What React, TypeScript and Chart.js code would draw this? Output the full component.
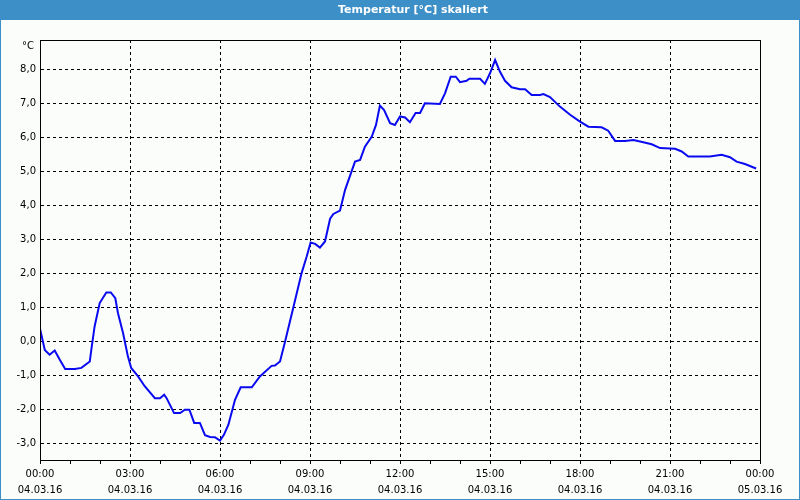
import React, { useEffect, useRef } from "react";
import { Chart, registerables } from "chart.js";

Chart.register(...registerables);

const chartTitle = "Temperatur [°C] skaliert";
const unitLabel = "°C";

const hours = [
  0.0, 0.16, 0.32, 0.49, 0.66, 0.84, 1.16, 1.38, 1.66, 1.71, 1.82, 1.99, 2.21, 2.36, 2.51, 2.6, 2.77, 2.93,
  3.04, 3.27, 3.49, 3.83, 4.0, 4.14, 4.22, 4.47, 4.67, 4.83, 4.98, 5.14, 5.33, 5.5, 5.67, 5.83, 6.0, 6.13,
  6.28, 6.5, 6.69, 7.06, 7.33, 7.72, 7.83, 8.0, 8.17, 8.44, 8.72, 8.89, 9.02, 9.17, 9.33, 9.5, 9.67, 9.78,
  10.0, 10.17, 10.5, 10.67, 10.83, 11.06, 11.2, 11.33, 11.47, 11.67, 11.83, 12.0, 12.17, 12.33, 12.52, 12.67,
  12.83, 13.33, 13.5, 13.69, 13.86, 14.0, 14.22, 14.31, 14.67, 14.83, 15.0, 15.17, 15.33, 15.5, 15.72, 16.0,
  16.17, 16.39, 16.67, 16.78, 17.0, 17.33, 17.67, 18.0, 18.28, 18.72, 18.94, 19.17, 19.5, 19.78, 20.11, 20.39,
  20.67, 21.17, 21.39, 21.61, 22.33, 22.72, 23.0, 23.22, 23.5, 23.87,
];

const temps = [
  0.38, -0.24, -0.38, -0.26, -0.53, -0.8, -0.8, -0.77, -0.58, -0.24, 0.45, 1.14, 1.45, 1.45, 1.28, 0.84, 0.25, -0.43,
  -0.77, -1.02, -1.31, -1.66, -1.66, -1.56, -1.66, -2.1, -2.1, -2.0, -2.0, -2.39, -2.39, -2.75, -2.8, -2.81, -2.91, -2.74,
  -2.44, -1.71, -1.34, -1.34, -1.02, -0.71, -0.7, -0.58, 0.01, 0.99, 2.02, 2.51, 2.92, 2.88, 2.77, 2.95, 3.62, 3.76,
  3.86, 4.47, 5.3, 5.35, 5.74, 6.04, 6.38, 6.95, 6.82, 6.43, 6.38, 6.63, 6.6, 6.46, 6.73, 6.73,
  7.02, 7.0, 7.31, 7.8, 7.8, 7.64, 7.68, 7.74, 7.74, 7.59, 7.9, 8.29, 7.95, 7.68, 7.49, 7.43,
  7.43, 7.26, 7.26, 7.29, 7.2, 6.92, 6.68, 6.48, 6.33, 6.31, 6.21, 5.91, 5.91, 5.94, 5.87, 5.81,
  5.7, 5.68, 5.6, 5.45, 5.45, 5.5, 5.43, 5.3, 5.23, 5.1,
];

const yTickValues = [-3, -2, -1, 0, 1, 2, 3, 4, 5, 6, 7, 8];
const xLabelHours = [0, 3, 6, 9, 12, 15, 18, 21, 24];
const xTimeLabels = ["00:00", "03:00", "06:00", "09:00", "12:00", "15:00", "18:00", "21:00", "00:00"];
const xDateLabels = ["04.03.16", "04.03.16", "04.03.16", "04.03.16", "04.03.16", "04.03.16", "04.03.16", "04.03.16", "05.03.16"];

const FONT = "'DejaVu Sans', Tahoma, sans-serif";
const FRAME_BLUE = "#3d8fc7";

const framePlugin = {
  id: "frame",
  beforeDraw(chart: any) {
    const { ctx, width, height } = chart;
    ctx.save();
    ctx.fillStyle = "#fbfdfb";
    ctx.fillRect(0, 0, width, height);
    ctx.fillStyle = FRAME_BLUE;
    ctx.fillRect(0, 0, width, 20);
    ctx.strokeStyle = FRAME_BLUE;
    ctx.lineWidth = 1;
    ctx.strokeRect(0.5, 0.5, width - 1, height - 1);
    ctx.fillStyle = "#ffffff";
    ctx.font = `bold 11px ${FONT}`;
    ctx.textAlign = "center";
    ctx.textBaseline = "middle";
    ctx.fillText(chartTitle, width / 2 + 13, 10.5);
    ctx.restore();
  },
  afterDraw(chart: any) {
    const { ctx, chartArea } = chart;
    ctx.save();
    ctx.strokeStyle = "#000000";
    ctx.lineWidth = 1;
    ctx.strokeRect(
      Math.round(chartArea.left) + 0.5,
      Math.round(chartArea.top) + 0.5,
      Math.round(chartArea.right - chartArea.left),
      Math.round(chartArea.bottom - chartArea.top)
    );
    ctx.fillStyle = "#000000";
    ctx.font = `10px ${FONT}`;
    ctx.textAlign = "right";
    ctx.textBaseline = "middle";
    ctx.fillText(unitLabel, chartArea.left - 6, chartArea.top + 6);
    ctx.restore();
  },
};

export default function App() {
  const canvasRef = useRef<HTMLCanvasElement | null>(null);

  useEffect(() => {
    if (!canvasRef.current) return;
    const data = hours.map((h, i) => ({ x: h, y: temps[i] }));
    const chart = new Chart(canvasRef.current, {
      type: "line",
      data: {
        datasets: [
          {
            data,
            borderColor: "#0a0af0",
            borderWidth: 2,
            pointRadius: 0,
            tension: 0,
            fill: false,
          },
        ],
      },
      plugins: [framePlugin],
      options: {
        animation: false,
        responsive: false,
        devicePixelRatio: 1,
        events: [],
        layout: { padding: { top: 40, right: 40, bottom: 0, left: 0 } },
        plugins: {
          legend: { display: false },
          tooltip: { enabled: false },
          title: { display: false },
        },
        scales: {
          x: {
            type: "linear",
            min: 0,
            max: 24,
            afterBuildTicks: (scale: any) => {
              const t = [];
              for (let h = 0; h <= 24; h++) t.push({ value: h });
              scale.ticks = t;
            },
            afterFit: (scale: any) => {
              scale.height = 40;
            },
            ticks: {
              autoSkip: false,
              maxRotation: 0,
              color: "#000000",
              padding: 2,
              font: { family: FONT, size: 10, lineHeight: 1.6 },
              callback: (value: any) => {
                const idx = xLabelHours.indexOf(Number(value));
                if (idx < 0) return "";
                return [xTimeLabels[idx], xDateLabels[idx]];
              },
            },
            grid: {
              color: (ctx: any) =>
                ctx.tick && xLabelHours.indexOf(ctx.tick.value) >= 0 && ctx.tick.value > 0 && ctx.tick.value < 24
                  ? "#000000"
                  : "rgba(0,0,0,0)",
              tickColor: "#000000",
              tickLength: 4,
              tickBorderDash: [],
              lineWidth: 1,
            },
            border: { display: true, color: "#000000", width: 1, dash: [3, 3] },
          },
          y: {
            type: "linear",
            min: -3.48,
            max: 8.88,
            afterBuildTicks: (scale: any) => {
              scale.ticks = yTickValues.map((v) => ({ value: v }));
            },
            afterFit: (scale: any) => {
              scale.width = 40;
            },
            ticks: {
              color: "#000000",
              padding: 4,
              font: { family: FONT, size: 10 },
              callback: (value: any) => Number(value).toFixed(1).replace(".", ","),
            },
            grid: {
              color: "#000000",
              drawTicks: false,
              lineWidth: 1,
            },
            border: { display: true, color: "#000000", width: 1, dash: [3, 3] },
          },
        },
      },
    } as any);
    return () => chart.destroy();
  }, []);

  return (
    <div style={{ position: "fixed", left: 0, top: 0, width: 800, height: 500 }}>
      <canvas ref={canvasRef} width={800} height={500} style={{ display: "block" }} />
    </div>
  );
}
